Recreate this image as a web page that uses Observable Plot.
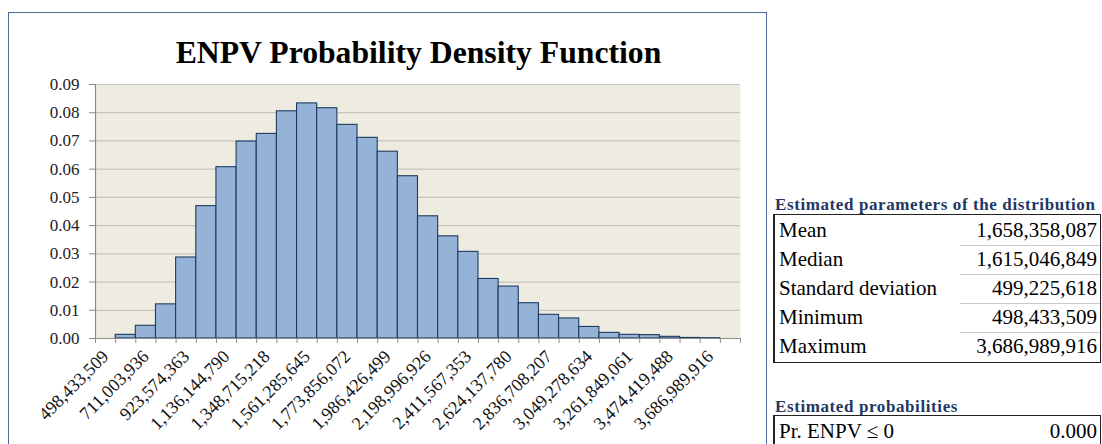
<!DOCTYPE html>
<html>
<head>
<meta charset="utf-8">
<script src="https://cdn.jsdelivr.net/npm/d3@7"></script>
<script src="https://cdn.jsdelivr.net/npm/@observablehq/plot@0.6"></script>
<style>
  html, body { margin: 0; padding: 0; background: #fff; }
  #page { position: relative; width: 1102px; height: 444px; overflow: hidden; font-family: "Liberation Serif", "Times New Roman", serif; }
  #frame { position: absolute; left: 8px; top: 12px; width: 757px; height: 460px; border: 1.5px solid #4a6b9a; }
  #title { position: absolute; left: 8px; width: 759px; top: 37px; text-align: center; font-size: 31.7px; font-weight: bold; color: #000; line-height: 1; padding-left: 62px; box-sizing: border-box; }
  #chart { position: absolute; left: 0; top: 0; }
  .hdr { position: absolute; font-weight: bold; color: #1f3864; font-size: 17px; letter-spacing: 0.6px; white-space: nowrap; line-height: 1; }
  .tbl { position: absolute; border: 1.5px solid #222; border-left-width: 2px; box-sizing: border-box; background: #fff; }
  .row { position: absolute; left: 0; right: 0; font-size: 21px; line-height: 1; white-space: nowrap; color: #000; }
  .row .lab { position: absolute; left: 4px; }
  .row .val { position: absolute; right: 3px; }
  .sep { position: absolute; height: 1px; background: #c8c8c8; }
</style>
</head>
<body>
<div id="page">
  <div id="frame"></div>
  <div id="chart"></div>
  <div id="title"></div>
  <div id="side"></div>
</div>
<script>
// ---- data ----
const chartTitle = "ENPV Probability Density Function";
const tickLabels = ["498,433,509", "711,003,936", "923,574,363", "1,136,144,790", "1,348,715,218",
  "1,561,285,645", "1,773,856,072", "1,986,426,499", "2,198,996,926", "2,411,567,353",
  "2,624,137,780", "2,836,708,207", "3,049,278,634", "3,261,849,061", "3,474,419,488", "3,686,989,916"];
const density = [0, 0.0013, 0.0045, 0.0121, 0.0287, 0.0469, 0.0607, 0.0698, 0.0725, 0.0805,
  0.0833, 0.0816, 0.0757, 0.0711, 0.0662, 0.0575, 0.0433, 0.0362, 0.0307, 0.0211,
  0.0184, 0.0125, 0.0084, 0.0071, 0.0041, 0.0020, 0.0013, 0.0012, 0.0006, 0.0002,
  0.0001, 0];
const yTicks = [0, 0.01, 0.02, 0.03, 0.04, 0.05, 0.06, 0.07, 0.08, 0.09];
const paramTitle = "Estimated parameters of the distribution";
const paramNames = ["Mean", "Median", "Standard deviation", "Minimum", "Maximum"];
const paramValues = ["1,658,358,087", "1,615,046,849", "499,225,618", "498,433,509", "3,686,989,916"];
const probTitle = "Estimated probabilities";
const probNames = ["Pr. ENPV \u2264 0"];
const probValues = ["0.000"];

// ---- chart ----
const bins = density.map((v, i) => ({i, v}));
const nBins = density.length;
const font = "Liberation Serif, Times New Roman, serif";

const chart = Plot.plot({
  width: 767,
  height: 444,
  marginLeft: 95,
  marginRight: 27,
  marginTop: 84,
  marginBottom: 106,
  style: {background: "transparent", fontFamily: font, fontSize: "17px", color: "#222"},
  x: {type: "linear", domain: [0, nBins], label: null},
  y: {domain: [0, 0.09], label: null},
  marks: [
    Plot.frame({fill: "#EEECE1", stroke: null}),
    Plot.gridY(yTicks.slice(1), {stroke: "#c3c3c3", strokeOpacity: 1, strokeWidth: 1.2}),
    Plot.rectY(bins, {x1: "i", x2: d => d.i + 1, y: "v", fill: "#95B3D7", stroke: "#1f3a60", strokeWidth: 1.1, inset: 0}),
    Plot.ruleY([0], {stroke: "#8c8c8c", strokeWidth: 1.2}),
    Plot.ruleX([0], {stroke: "#8c8c8c", strokeWidth: 1.2}),
    Plot.axisY({ticks: yTicks, tickFormat: d3.format(".2f"), tickSize: 6, tickPadding: 10, stroke: "#8c8c8c", fill: "#222", fontSize: 17, label: null}),
    Plot.axisX({ticks: d3.range(nBins + 1), tickFormat: () => "", tickSize: 5, stroke: "#8c8c8c", label: null}),
    Plot.axisX({ticks: tickLabels.map((_, k) => 2 * k + 0.5), tickFormat: d => tickLabels[(d - 0.5) / 2],
      tickRotate: -45, tickSize: 0, tickPadding: 15, textAnchor: "end", fill: "#111", fontSize: 18, label: null})
  ]
});
document.getElementById("chart").appendChild(chart);
document.getElementById("title").textContent = chartTitle;

// ---- side tables ----
const side = document.getElementById("side");
function addTable(title, names, values, titleTop, boxTop, rowH) {
  const h = document.createElement("div");
  h.className = "hdr";
  h.textContent = title;
  h.style.left = "775px";
  h.style.top = titleTop + "px";
  side.appendChild(h);
  const t = document.createElement("div");
  t.className = "tbl";
  t.style.left = "773px";
  t.style.top = boxTop + "px";
  t.style.width = "328px";
  t.style.height = (names.length * rowH + 4) + "px";
  side.appendChild(t);
  names.forEach((n, k) => {
    const r = document.createElement("div");
    r.className = "row";
    r.style.top = (k * rowH + 5) + "px";
    r.innerHTML = `<span class="lab"></span><span class="val"></span>`;
    r.querySelector(".lab").textContent = n;
    r.querySelector(".val").textContent = values[k];
    t.appendChild(r);
    if (k < names.length - 1) {
      const s = document.createElement("div");
      s.className = "sep";
      s.style.left = "185px";
      s.style.right = "0px";
      s.style.top = ((k + 1) * rowH + 1) + "px";
      t.appendChild(s);
    }
  });
}
addTable(paramTitle, paramNames, paramValues, 196, 214, 29);
addTable(probTitle, probNames, probValues, 398, 415, 29);
</script>
</body>
</html>
